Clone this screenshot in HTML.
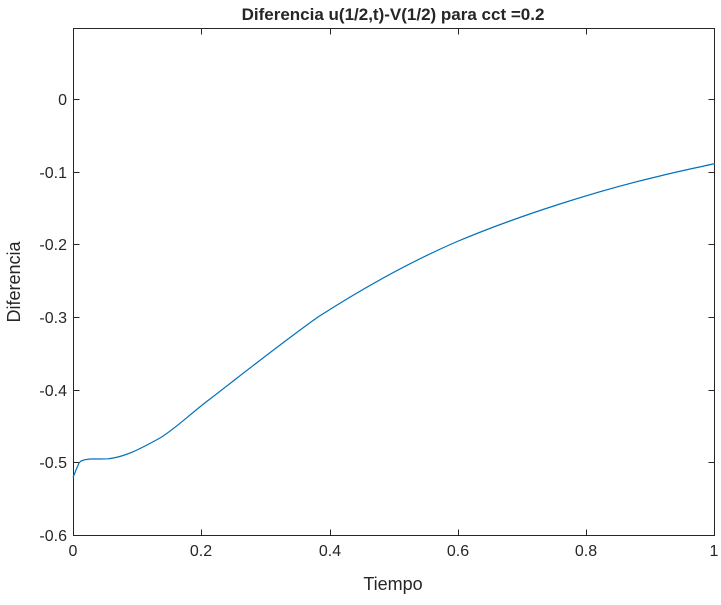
<!DOCTYPE html>
<html><head><meta charset="utf-8"><style>
body{margin:0;background:#fff;}
svg text{font-family:"Liberation Sans",Arial,sans-serif;fill:#262626;}
</style></head><body>
<svg width="721" height="600" xmlns="http://www.w3.org/2000/svg">
<rect width="721" height="600" fill="#fff"/>
<text x="393" y="20" font-size="17" font-weight="bold" text-anchor="middle" fill="#000">Diferencia u(1/2,t)-V(1/2) para cct =0.2</text>
<g stroke="#262626" stroke-width="1" fill="none">
<rect x="73.5" y="28.5" width="641" height="507"/>
<path d="M73.5 535.5v-6M201.5 535.5v-6M330.5 535.5v-6M458.5 535.5v-6M586.5 535.5v-6M714.5 535.5v-6
M201.5 28.5v6M330.5 28.5v6M458.5 28.5v6M586.5 28.5v6"/>
<path d="M73.5 535.5h6M73.5 462.5h6M73.5 390.5h6M73.5 317.5h6M73.5 244.5h6M73.5 172.5h6M73.5 99.5h6
M714.5 462.5h-6M714.5 390.5h-6M714.5 317.5h-6M714.5 244.5h-6M714.5 172.5h-6M714.5 99.5h-6"/>
</g>
<g font-size="16" text-anchor="middle">
<text x="73" y="556">0</text><text x="201" y="556">0.2</text><text x="330" y="556">0.4</text>
<text x="458" y="556">0.6</text><text x="586" y="556">0.8</text><text x="714" y="556">1</text>
</g>
<g font-size="16" text-anchor="end">
<text x="67" y="541">-0.6</text><text x="67" y="468">-0.5</text><text x="67" y="396">-0.4</text>
<text x="67" y="323">-0.3</text><text x="67" y="250">-0.2</text><text x="67" y="178">-0.1</text>
<text x="67" y="105">0</text>
</g>
<text x="393" y="590" font-size="18" text-anchor="middle">Tiempo</text>
<text transform="translate(20 282) rotate(-90)" font-size="18" text-anchor="middle">Diferencia</text>
<path fill="none" stroke="#0072BD" stroke-width="1.2" stroke-linejoin="round" d="M73,477.5 L76,470 L79,463 L81,461 L85,459.7 L90,459 L100,459 L108,458.8
C125,457 140,449 160,438 C175,429 190,414 210,399 C240,376 280,344 318,317 C360,290 410,262 456,242 C520,215 600,190 660,176 C680,171 700,167 715,163.5"/>
</svg>
</body></html>
